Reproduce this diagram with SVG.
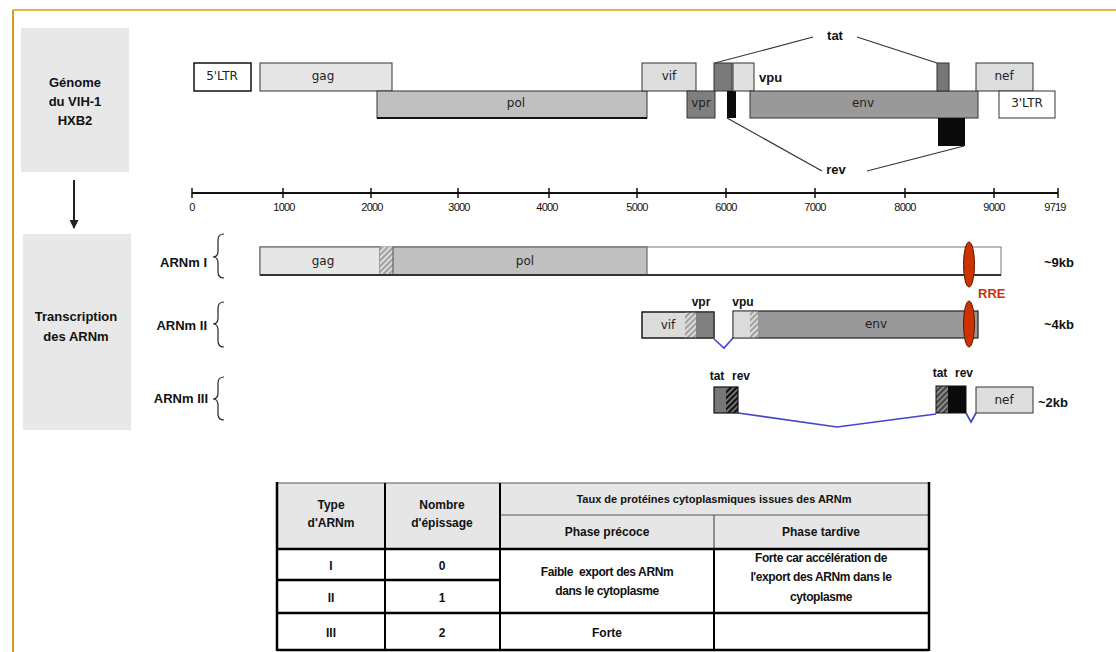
<svg xmlns="http://www.w3.org/2000/svg" width="1116" height="652" viewBox="0 0 1116 652">
<defs>
<pattern id="hatchL" patternUnits="userSpaceOnUse" width="4" height="4" patternTransform="rotate(45)">
<rect width="4" height="4" fill="#dcdcdc"/><rect width="1.8" height="4" fill="#9a9a9a"/>
</pattern>
<pattern id="hatchD" patternUnits="userSpaceOnUse" width="4" height="4" patternTransform="rotate(45)">
<rect width="4" height="4" fill="#111"/><rect width="1.6" height="4" fill="#888"/>
</pattern>
<pattern id="hatchM" patternUnits="userSpaceOnUse" width="4" height="4" patternTransform="rotate(45)">
<rect width="4" height="4" fill="#444"/><rect width="1.6" height="4" fill="#999"/>
</pattern>
<marker id="arr" markerWidth="9" markerHeight="9" refX="8" refY="4.5" orient="auto" markerUnits="userSpaceOnUse">
<path d="M0,0 L9,4.5 L0,9 Z" fill="#222"/>
</marker>
</defs>
<style>
.gene{stroke:#333;stroke-width:1}
.glab{font-family:"DejaVu Sans",sans-serif;font-size:12px;fill:#222;text-anchor:middle;dominant-baseline:central}
.b{font-family:"Liberation Sans",Arial,sans-serif;font-weight:bold;font-size:13px;fill:#111}
.bc{font-family:"Liberation Sans",Arial,sans-serif;font-weight:bold;font-size:12px;fill:#111;text-anchor:middle;dominant-baseline:central}
.tick{font-family:"Liberation Sans",Arial,sans-serif;font-size:11px;fill:#111;text-anchor:middle;letter-spacing:-0.8px}
.side{fill:#e8e8e8}
.brace{fill:none;stroke:#222;stroke-width:1.2}
.conn{fill:none;stroke:#333;stroke-width:1.2}
.splice{fill:none;stroke:#4444cc;stroke-width:1.6}
.rre{fill:#cc3300;stroke:#5a1a00;stroke-width:1}
.th{font-family:"Liberation Sans",Arial,sans-serif;font-weight:bold;font-size:12px;fill:#111;text-anchor:middle;dominant-baseline:central}
.thin{stroke:#555;stroke-width:1.2}
.thick{stroke:#000;stroke-width:2.5}
</style>
<rect width="1116" height="652" fill="#fff"/>
<g id="frame"><line x1="13" y1="10" x2="1116" y2="10" stroke="#d4a017" stroke-width="1.5"/><line x1="13" y1="10" x2="13" y2="652" stroke="#d4a017" stroke-width="2"/></g>

<g id="side-genome"><rect class="side" x="21" y="28" width="108" height="144"/>
<text class="b" x="75" y="87" text-anchor="middle">Génome</text>
<text class="b" x="75" y="106" text-anchor="middle">du VIH-1</text>
<text class="b" x="75" y="125" text-anchor="middle">HXB2</text></g>
<g id="side-transcription"><rect class="side" x="23" y="234" width="108" height="196"/>
<text class="b" x="76" y="321" text-anchor="middle">Transcription</text>
<text class="b" x="76" y="341" text-anchor="middle">des ARNm</text></g>

<g id="genome">
<rect x="194" y="63" width="57" height="28" fill="#fff" stroke="#111" stroke-width="1.5"/><text class="glab" x="222" y="76">5'LTR</text>
<rect class="gene" x="260" y="63" width="132" height="28" fill="#e6e6e6"/><text class="glab" x="323" y="76">gag</text>
<rect class="gene" x="377" y="91" width="270" height="27" fill="#c0c0c0"/><line x1="377" y1="118" x2="647" y2="118" stroke="#111" stroke-width="2"/><text class="glab" x="516" y="103">pol</text>
<rect class="gene" x="642" y="63" width="54" height="28" fill="#dedede"/><text class="glab" x="669" y="76">vif</text>
<rect class="gene" x="687" y="91" width="28" height="27" fill="#7f7f7f"/><text class="glab" x="701" y="103">vpr</text>
<rect class="gene" x="714" y="63" width="18" height="28" fill="#7a7a7a"/>
<rect x="727" y="91" width="9" height="27" fill="#0a0a0a"/>
<rect class="gene" x="733" y="63" width="21" height="28" fill="#e0e0e0"/><text class="b" x="759" y="82">vpu</text>
<rect class="gene" x="750" y="91" width="228" height="27" fill="#999"/><text class="glab" x="863" y="103">env</text>
<rect class="gene" x="937" y="63" width="12" height="28" fill="#777"/>
<rect x="938" y="118" width="27" height="28" fill="#0a0a0a"/>
<rect class="gene" x="976" y="63" width="57" height="28" fill="#dedede"/><text class="glab" x="1004" y="76">nef</text>
<rect x="999" y="91" width="56" height="27" fill="#fff" stroke="#333" stroke-width="1"/><text class="glab" x="1027" y="103">3'LTR</text>
<text class="b" x="835" y="40" text-anchor="middle">tat</text>
<text class="b" x="836" y="174" text-anchor="middle">rev</text>
</g>

<g id="connectors">
<line class="conn" x1="715" y1="63" x2="813" y2="37"/>
<line class="conn" x1="857" y1="37" x2="937" y2="63"/>
<line class="conn" x1="727" y1="118" x2="822" y2="171"/>
<line class="conn" x1="867" y1="171" x2="964" y2="146"/>
<line x1="74" y1="180" x2="74" y2="228" stroke="#222" stroke-width="2" marker-end="url(#arr)"/>
<path class="splice" d="M714,339 L724,348 L733,338"/>
<path class="splice" d="M738,413 L837,427 L936,414"/>
<path class="splice" d="M966,413 L971,422 L976,413"/>
</g>

<g id="axis">
<line x1="192" y1="193" x2="1058" y2="193" stroke="#111" stroke-width="2"/>
<g stroke="#111" stroke-width="1.5">
<line x1="192" y1="188" x2="192" y2="198"/><line x1="283" y1="188" x2="283" y2="198"/><line x1="371" y1="188" x2="371" y2="198"/><line x1="458" y1="188" x2="458" y2="198"/><line x1="549" y1="188" x2="549" y2="198"/><line x1="637" y1="188" x2="637" y2="198"/><line x1="726" y1="188" x2="726" y2="198"/><line x1="815" y1="188" x2="815" y2="198"/><line x1="905" y1="188" x2="905" y2="198"/><line x1="994" y1="188" x2="994" y2="198"/><line x1="1058" y1="188" x2="1058" y2="198"/>
</g>
<text class="tick" x="192" y="211">0</text><text class="tick" x="284" y="211">1000</text><text class="tick" x="372" y="211">2000</text><text class="tick" x="459" y="211">3000</text><text class="tick" x="547" y="211">4000</text><text class="tick" x="637" y="211">5000</text><text class="tick" x="726" y="211">6000</text><text class="tick" x="815" y="211">7000</text><text class="tick" x="905" y="211">8000</text><text class="tick" x="994" y="211">9000</text><text class="tick" x="1055" y="211">9719</text>
</g>

<g id="arnm1">
<text class="b" x="207" y="267" text-anchor="end">ARNm I</text>
<path class="brace" d="M224,234 Q218,234 218,240 L218,251 Q218,257 213,257 Q218,257 218,263 L218,272 Q218,278 224,278"/>
<rect x="260" y="247" width="741" height="28" fill="#fff" stroke="#777" stroke-width="1"/>
<rect x="260" y="247" width="120" height="28" fill="#e6e6e6" stroke="#555" stroke-width="1"/>
<rect x="380" y="247" width="13" height="28" fill="url(#hatchL)"/>
<rect x="393" y="247" width="254" height="28" fill="#c0c0c0" stroke="#555" stroke-width="1"/>
<line x1="260" y1="275" x2="1001" y2="275" stroke="#333" stroke-width="2"/>
<text class="glab" x="323" y="261">gag</text><text class="glab" x="525" y="261">pol</text>
<ellipse class="rre" cx="969" cy="264.5" rx="5.5" ry="22.5"/>
<text class="b" x="978" y="298" style="fill:#cc3300">RRE</text>
<text class="b" x="1044" y="267">~9kb</text>
</g>

<g id="arnm2">
<text class="b" x="207" y="330" text-anchor="end">ARNm II</text>
<path class="brace" d="M224,302 Q218,302 218,308 L218,318 Q218,324 213,324 Q218,324 218,330 L218,341 Q218,347 224,347"/>
<rect x="642" y="312" width="72" height="26" fill="#dcdcdc" stroke="#333" stroke-width="1"/>
<rect x="685" y="312" width="11" height="26" fill="url(#hatchL)"/>
<rect x="696" y="312" width="18" height="26" fill="#808080"/>
<rect x="642" y="312" width="72" height="26" fill="none" stroke="#222" stroke-width="1.2"/>
<text class="glab" x="668" y="325">vif</text>
<rect x="733" y="311" width="245" height="27" fill="#999" stroke="#222" stroke-width="1.2"/>
<rect x="733.6" y="311.6" width="16.4" height="25.8" fill="#dcdcdc"/>
<rect x="750" y="311.6" width="8" height="25.8" fill="url(#hatchL)"/>
<text class="glab" x="876" y="324">env</text>
<text class="bc" x="701" y="302">vpr</text><text class="bc" x="743" y="302">vpu</text>
<ellipse class="rre" cx="969" cy="324" rx="5.5" ry="23"/>
<text class="b" x="1044" y="329">~4kb</text>
</g>

<g id="arnm3">
<text class="b" x="208" y="403" text-anchor="end">ARNm III</text>
<path class="brace" d="M224,377 Q218,377 218,383 L218,393 Q218,399 213,399 Q218,399 218,405 L218,414 Q218,420 224,420"/>
<rect x="714" y="387" width="12" height="26" fill="#777"/>
<rect x="726" y="387" width="12" height="26" fill="url(#hatchD)"/>
<rect x="714" y="387" width="24" height="26" fill="none" stroke="#111" stroke-width="1.2"/>
<text class="bc" x="717" y="376">tat</text><text class="bc" x="741" y="376">rev</text>
<rect x="936" y="386" width="12" height="27" fill="url(#hatchM)"/>
<rect x="948" y="386" width="18" height="27" fill="#0a0a0a"/>
<rect x="936" y="386" width="30" height="27" fill="none" stroke="#111" stroke-width="1"/>
<text class="bc" x="940" y="373">tat</text><text class="bc" x="964" y="373">rev</text>
<rect x="976" y="387" width="57" height="26" fill="#dedede" stroke="#333" stroke-width="1"/>
<text class="glab" x="1004" y="400">nef</text>
<text class="b" x="1038" y="407">~2kb</text>
</g>

<g id="table">
<rect x="277" y="483" width="652" height="66" fill="#e6e6e6"/>
<line class="thin" x1="500" y1="515" x2="929" y2="515"/>
<line class="thin" x1="714" y1="515" x2="714" y2="549"/>
<line class="thin" x1="277" y1="483" x2="929" y2="483"/>
<line class="thick" x1="385" y1="483" x2="385" y2="650" style="stroke-width:2"/>
<line class="thick" x1="500" y1="483" x2="500" y2="650" style="stroke-width:2"/>
<line class="thick" x1="714" y1="549" x2="714" y2="650" style="stroke-width:2"/>
<line class="thick" x1="277" y1="482" x2="277" y2="651"/>
<line class="thick" x1="929" y1="482" x2="929" y2="651"/>
<line class="thick" x1="277" y1="549" x2="929" y2="549"/>
<line class="thick" x1="277" y1="580" x2="500" y2="580"/>
<line class="thick" x1="277" y1="613" x2="929" y2="613"/>
<line class="thick" x1="277" y1="650" x2="929" y2="650"/>
<text class="th" x="331" y="505">Type</text><text class="th" x="331" y="523">d'ARNm</text>
<text class="th" x="442" y="505">Nombre</text><text class="th" x="442" y="523">d'épissage</text>
<text class="th" x="714" y="499" style="font-size:11px">Taux de protéines cytoplasmiques issues des ARNm</text>
<text class="th" x="607" y="532">Phase précoce</text><text class="th" x="821" y="532">Phase tardive</text>
<text class="th" x="331" y="566">I</text><text class="th" x="442" y="566">0</text>
<text class="th" x="331" y="598">II</text><text class="th" x="442" y="598">1</text>
<text class="th" x="331" y="633">III</text><text class="th" x="442" y="633">2</text>
<text class="th" x="607" y="572" style="letter-spacing:-0.4px">Faible&#160; export des ARNm</text>
<text class="th" x="607" y="591" style="letter-spacing:-0.4px">dans le cytoplasme</text>
<text class="th" x="821" y="558" style="letter-spacing:-0.4px">Forte car accélération de</text>
<text class="th" x="821" y="577" style="letter-spacing:-0.4px">l'export des ARNm dans le</text>
<text class="th" x="821" y="597" style="letter-spacing:-0.4px">cytoplasme</text>
<text class="th" x="607" y="633">Forte</text>
</g>
</svg>
